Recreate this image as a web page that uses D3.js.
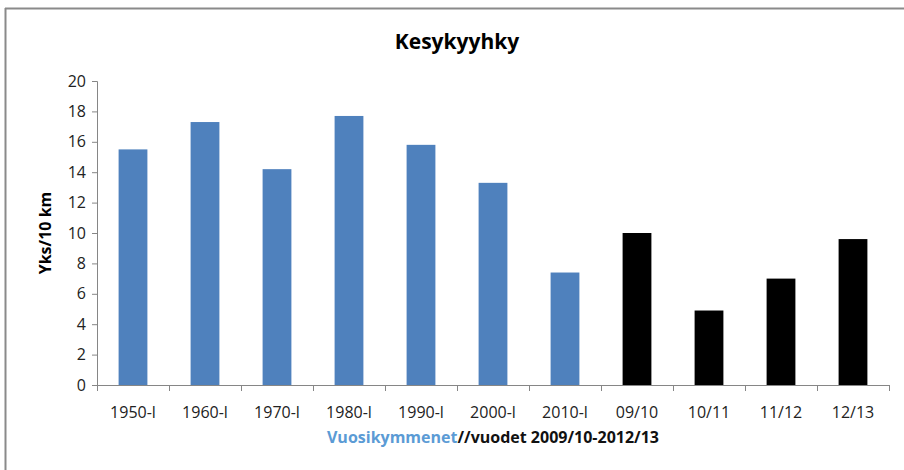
<!DOCTYPE html>
<html><head><meta charset="utf-8">
<script src="https://cdn.jsdelivr.net/npm/d3@7"></script>
<style>
html,body{margin:0;padding:0;background:#fff;}
svg{display:block;font-family:"Open Sans",Lato,sans-serif;}
</style></head>
<body>
<svg id="chart" width="904" height="470"></svg>
<script>
const categories = ["1950-l","1960-l","1970-l","1980-l","1990-l","2000-l","2010-l","09/10","10/11","11/12","12/13"];
const values = [15.5, 17.3, 14.2, 17.7, 15.8, 13.3, 7.4, 10.0, 4.9, 7.0, 9.6];
const seriesType = ["decade","decade","decade","decade","decade","decade","decade","year","year","year","year"];
const yTicks = [0,2,4,6,8,10,12,14,16,18,20];
const title = "Kesykyyhky";
const yLabel = "Yks/10 km";
const xLabelA = "Vuosikymmenet";
const xLabelB = "//vuodet 2009/10-2012/13";

const svg = d3.select("#chart");
const m = {left:97, right:15, top:81, bottom:85};
const W = 904, H = 470;
const x = d3.scaleBand().domain(categories).range([m.left, W - m.right]).paddingInner(0.6).paddingOuter(0.3);
const y = d3.scaleLinear().domain([0,20]).range([H - m.bottom, m.top]);

// frame
svg.append("line").attr("x1",5).attr("x2",W).attr("y1",8.5).attr("y2",8.5).attr("stroke","#8a8a8a").attr("stroke-width",2);
svg.append("line").attr("x1",5.5).attr("x2",5.5).attr("y1",8).attr("y2",H).attr("stroke","#8a8a8a").attr("stroke-width",2);

// title
svg.append("text").attr("x",457).attr("y",49).attr("text-anchor","middle")
  .attr("font-size",21).attr("font-weight","bold").attr("fill","#000").text(title);

// bars
svg.append("g").selectAll("rect").data(values).join("rect")
  .attr("x",(d,i)=>x(categories[i]))
  .attr("width",x.bandwidth())
  .attr("y",d=>y(d))
  .attr("height",d=>y(0)-y(d))
  .attr("fill",(d,i)=>seriesType[i]==="decade" ? "#4f81bd" : "#000");

// y axis
const yAxis = d3.axisLeft(y).tickValues(yTicks).tickSize(5).tickPadding(6);
const gy = svg.append("g").attr("transform",`translate(${m.left},0)`).call(yAxis);
gy.select(".domain").attr("stroke","#868686");
gy.selectAll(".tick line").attr("stroke","#868686");
gy.selectAll(".tick text").attr("font-size",16).attr("fill","#222").attr("font-family","'Open Sans',sans-serif");

// x axis
const x0 = y(0);
const gx = svg.append("g").attr("transform",`translate(0,${x0})`);
gx.append("line").attr("x1",m.left).attr("x2",W-m.right).attr("y1",0.5).attr("y2",0.5).attr("stroke","#868686");
const bounds = d3.range(categories.length+1).map(i => m.left + i*(W-m.right-m.left)/categories.length);
gx.selectAll(".tk").data(bounds).join("line").attr("class","tk")
  .attr("x1",d=>Math.round(d)+0.5).attr("x2",d=>Math.round(d)+0.5).attr("y1",0).attr("y2",6).attr("stroke","#868686");
gx.selectAll(".lbl").data(categories).join("text").attr("class","lbl")
  .attr("x",d=>x(d)+x.bandwidth()/2).attr("y",33).attr("text-anchor","middle")
  .attr("font-size",16).attr("fill","#222").text(d=>d);

// x title
const xt = svg.append("text").attr("x",493).attr("y",443).attr("text-anchor","middle")
  .attr("font-size",16).attr("font-weight","bold");
xt.append("tspan").attr("fill","#5b9bd5").text(xLabelA);
xt.append("tspan").attr("fill","#111").text(xLabelB);

// y title
svg.append("text").attr("transform",`translate(51,${(y(0)+y(20))/2}) rotate(-90)`)
  .attr("text-anchor","middle").attr("font-size",16).attr("font-weight","bold").attr("fill","#000").text(yLabel);
</script>
</body></html>
